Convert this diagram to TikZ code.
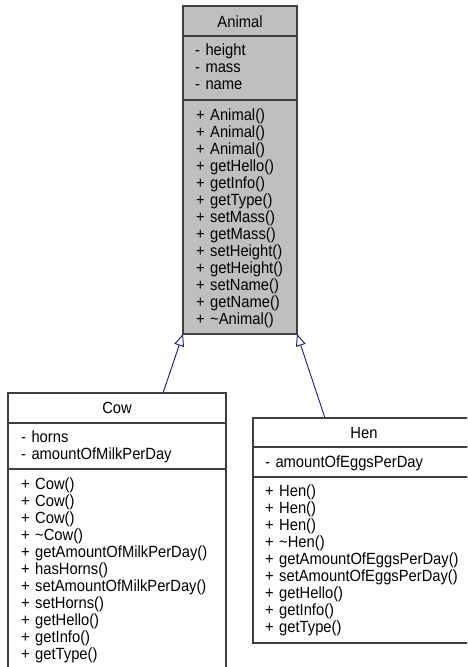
\documentclass[tikz,border=0pt]{standalone}
\usepackage{fontspec}
\setmainfont{Liberation Sans}[FakeStretch=0.91]
\usetikzlibrary{arrows.meta}
\definecolor{classgray}{RGB}{191,191,191}
\definecolor{boxline}{RGB}{64,64,64}
\definecolor{edgeblue}{RGB}{25,25,112}
\tikzset{
  compartment/.style={rectangle, draw=boxline, line width=1.2pt, anchor=north west,
    inner sep=0pt, outer sep=0pt},
  classname/.style={anchor=base, inner sep=0pt, font=\fontsize{16.2}{17}\selectfont},
  members/.style={anchor=base west, inner sep=0pt, align=left,
    font=\fontsize{16.2}{17}\selectfont},
  inherit/.style={draw=edgeblue, line width=0.9pt,
    -{Triangle[open, length=12pt, width=10pt]}},
}
\begin{document}
\begin{tikzpicture}[x=1pt, y=-1pt]
  \useasboundingbox (0,0) rectangle (467,667);
  \clip (0,0) rectangle (467,667);
  % base class
  \node[compartment, fill=classgray, minimum width=114pt, minimum height=30pt] (animalhead) at (183,6) {};
  \node[compartment, fill=classgray, minimum width=114pt, minimum height=64pt] (animalattrs) at (183,36) {};
  \node[compartment, fill=classgray, minimum width=114pt, minimum height=234pt] (animalops) at (183,100) {};
  \node[classname] (animallabel) at (240,27) {Animal};
  \node[members, text width=100pt] (animalattrlist) at (195,55) {- height\\- mass\\- name};
  \node[members, text width=100pt] (animaloplist) at (196,120)
    {+ Animal()\\+ Animal()\\+ Animal()\\+ getHello()\\+ getInfo()\\+ getType()\\+ setMass()\\+ getMass()\\+ setHeight()\\+ getHeight()\\+ setName()\\+ getName()\\+ \textasciitilde Animal()};
  % Cow
  \node[compartment, fill=white, minimum width=218pt, minimum height=30pt] (cowhead) at (8,393) {};
  \node[compartment, fill=white, minimum width=218pt, minimum height=46pt] (cowattrs) at (8,423) {};
  \node[compartment, fill=white, minimum width=218pt, minimum height=220pt] (cowops) at (8,469) {};
  \node[classname] (cowlabel) at (117,413) {Cow};
  \node[members, text width=200pt] (cowattrlist) at (21,442) {- horns\\- amountOfMilkPerDay};
  \node[members, text width=200pt] (cowoplist) at (21,489)
    {+ Cow()\\+ Cow()\\+ Cow()\\+ \textasciitilde Cow()\\+ getAmountOfMilkPerDay()\\+ hasHorns()\\+ setAmountOfMilkPerDay()\\+ setHorns()\\+ getHello()\\+ getInfo()\\+ getType()};
  % Hen
  \node[compartment, fill=white, minimum width=222pt, minimum height=29pt] (henhead) at (253,418) {};
  \node[compartment, fill=white, minimum width=222pt, minimum height=30pt] (henattrs) at (253,447) {};
  \node[compartment, fill=white, minimum width=222pt, minimum height=166pt] (henops) at (253,477) {};
  \node[classname] (henlabel) at (364,438) {Hen};
  \node[members, text width=205pt] (henattrlist) at (265,467) {- amountOfEggsPerDay};
  \node[members, text width=205pt] (henoplist) at (265,496)
    {+ Hen()\\+ Hen()\\+ Hen()\\+ \textasciitilde Hen()\\+ getAmountOfEggsPerDay()\\+ setAmountOfEggsPerDay()\\+ getHello()\\+ getInfo()\\+ getType()};
  % generalisation
  \draw[inherit] ([xshift=155pt]cowhead.north west) -- (animalops.south west);
  \draw[inherit] ([xshift=72pt]henhead.north west) -- (animalops.south east);
\end{tikzpicture}
\end{document}
